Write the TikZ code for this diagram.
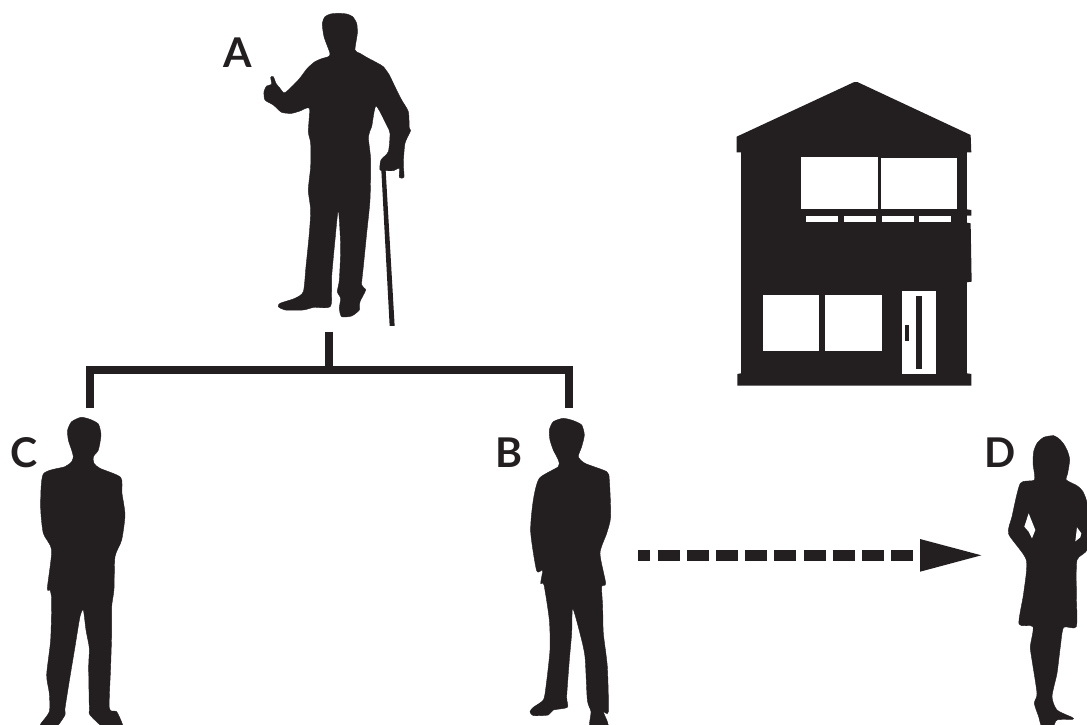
\documentclass[tikz,border=0pt]{standalone}
\usepackage{fontspec}
\setmainfont{Lato}
\definecolor{ink}{HTML}{231F20}
\tikzset{
  silhouette/.style={fill=ink,draw=ink,line width=0.4pt,line join=round},
  plain/.style={fill=ink,draw=none},
  hole/.style={fill=white,draw=none},
  letter/.style={text=ink,inner sep=0pt,font=\bfseries\fontsize{41}{41}\selectfont},
  bracketline/.style={draw=ink,line width=8pt,line cap=butt,line join=miter},
  dashline/.style={draw=ink,line width=11.4pt,dash pattern=on 22pt off 7.2pt,dash phase=10pt},
  zoomA/.style={shift={(220,0)},x=0.3333pt,y=-0.3333pt},
  zoomH/.style={shift={(720,70)},x=0.3333pt,y=-0.3333pt},
  zoomC/.style={shift={(0,400)},x=0.3333pt,y=-0.3333pt},
  zoomB/.style={shift={(490,400)},x=0.3333pt,y=-0.3333pt},
  zoomD/.style={shift={(977,420)},x=0.3333pt,y=-0.3333pt},
}
\begin{document}
\begin{tikzpicture}[x=1pt,y=-1pt]
\useasboundingbox (0,0) rectangle (1087,724);
\clip (0,0) rectangle (1087,724);
% Figure A
\begin{scope}[zoomA]
\fill[silhouette] plot[smooth cycle,tension=0.4] coordinates {
(355,40)(380,42)(398,50)(410,70)(412,100)(405,150)(420,160)(440,172)(470,188)(490,200)(508,225)(520,250)(545,300)(565,335)(568,385)(572,392)(555,430)(550,490)
(552,532)(538,532)(538,505)(520,512)(495,512)(480,510)(483,480)(505,455)(510,400)(500,375)(468,318)(455,380)(445,410)
(452,480)(450,600)(440,700)(430,800)(425,855)(437,870)(420,905)(418,930)(395,948)(365,950)(358,925)(362,895)(352,875)
(358,840)(362,740)(355,630)(345,720)(335,830)(332,918)(282,922)(250,930)(195,930)(175,920)(180,910)(225,895)(250,875)
(258,800)(268,700)(272,630)(265,570)(272,500)(272,430)(265,395)(268,325)(240,333)(215,340)(185,337)(160,315)(135,300)
(132,275)(140,258)(155,253)(152,232)(160,230)(168,250)(180,265)(195,278)(235,240)(262,205)(285,185)(305,176)(325,170)(330,160)
(312,110)(307,70)(315,50)(332,42)};
\fill[plain] (484,510) -- (497,510) -- (524,978) -- (509,978) -- cycle;
\end{scope}
% House
\begin{scope}[zoomH]
\fill[plain] (403,36) -- (412,36) -- (752,195) -- (754,247) -- (741,247) -- (741,418) -- (754,420) -- (754,437)
  -- (741,437) -- (741,458) -- (752,460) -- (755,635) -- (741,637) -- (741,910) -- (754,912) -- (754,947) -- (52,947)
  -- (52,912) -- (63,910) -- (63,247) -- (50,247) -- (50,200) -- cycle;
\fill[hole] (243,261) rectangle (474,417);
\fill[hole] (484,263) rectangle (710,417);
\fill[hole] (258,438) rectangle (354,457);
\fill[hole] (372,438) rectangle (468,457);
\fill[hole] (486,438) rectangle (581,457);
\fill[hole] (597,438) rectangle (694,457);
\fill[hole] (128,675) rectangle (297,842);
\fill[hole] (316,675) rectangle (485,842);
\fill[hole] (546,663) rectangle (647,912);
\fill[plain] (588,678) rectangle (606,897);
\fill[plain] (555,765) rectangle (567,813);
\end{scope}
% Figure C
\begin{scope}[zoomC]
\fill[silhouette] plot[smooth cycle,tension=0.4] coordinates {
(243,52)(270,58)(295,72)(303,105)(295,150)(280,170)(282,190)(300,205)(362,232)(366,280)(375,345)(365,420)(345,470)
(342,568)(335,620)(335,700)(332,800)(328,925)(350,935)(367,972)(367,985)(315,985)(270,945)(268,925)(266,800)(268,745)(258,690)(250,630)
(240,650)(225,740)(210,830)(195,925)(195,945)(165,985)(122,985)(122,972)(148,935)(148,880)(140,825)(152,720)(155,600)(150,570)
(142,565)(155,450)(130,400)(122,320)(130,222)(195,200)(215,185)(220,170)(215,150)(205,120)(203,90)(215,65)};
\end{scope}
% Figure B
\begin{scope}[zoomB]
\fill[silhouette] plot[smooth cycle,tension=0.4] coordinates {
(220,55)(250,62)(275,75)(283,105)(275,140)(265,170)(285,190)(350,215)(358,240)(362,350)(350,400)(330,460)(347,550)
(335,560)(338,620)(340,700)(352,800)(355,935)(340,935)(352,965)(353,985)(300,985)(303,935)(292,900)(285,770)(270,700)
(248,625)(245,700)(238,780)(230,890)(232,922)(190,930)(175,945)(130,947)(120,935)(130,922)(160,900)(168,860)(180,750)
(178,660)(162,555)(152,550)(158,510)(140,512)(122,395)(130,300)(148,235)(205,200)(205,180)(190,150)(180,120)(178,90)(190,65)};
\end{scope}
% Figure D
\begin{scope}[zoomD]
\fill[silhouette] plot[smooth cycle,tension=0.4] coordinates {
(230,47)(248,58)(262,75)(272,95)(278,120)(272,160)(268,180)(300,197)(318,215)(332,260)(332,385)(300,420)(298,520)(298,620)(260,622)
(250,680)(240,760)(225,830)(240,870)(285,892)(287,898)(240,900)(228,920)(195,920)(185,890)(172,850)(180,820)(165,720)
(160,680)(168,620)(126,612)(140,520)(148,420)(95,342)(105,290)(130,190)(172,180)(168,130)(170,95)(180,70)(200,52)};
\fill[hole] (155,280) -- (175,330) -- (165,355) -- (155,335) -- (142,320) -- cycle;
\fill[hole] (300,322) -- (313,340) -- (310,352) -- (295,364) -- cycle;
\end{scope}
% Labels
\node[letter] (labelA) at (238,53) {A};
\node[letter] (labelC) at (24.5,453) {C};
\node[letter] (labelB) at (509,453) {B};
\node[letter] (labelD) at (1000,453) {D};
% Family bracket
\coordinate (stem) at (329.2,331.7);
\coordinate (junction) at (329.2,369.7);
\coordinate (cornerC) at (89.7,369.7);
\coordinate (cornerB) at (568.7,369.7);
\coordinate (footC) at (89.7,408.3);
\coordinate (footB) at (568.7,408.3);
\draw[bracketline] (stem) -- (junction);
\draw[bracketline] (footC) -- (cornerC) -- (cornerB) -- (footB);
% Dashed arrow
\coordinate (arrowStart) at (638.3,555.2);
\coordinate (arrowEnd) at (913,555.2);
\coordinate (tipTop) at (920,539);
\coordinate (tip) at (981.3,555.3);
\coordinate (tipBottom) at (920,571.7);
\draw[dashline] (arrowStart) -- (arrowEnd);
\fill[plain] (tipTop) -- (tip) -- (tipBottom) -- cycle;
\end{tikzpicture}
\end{document}
